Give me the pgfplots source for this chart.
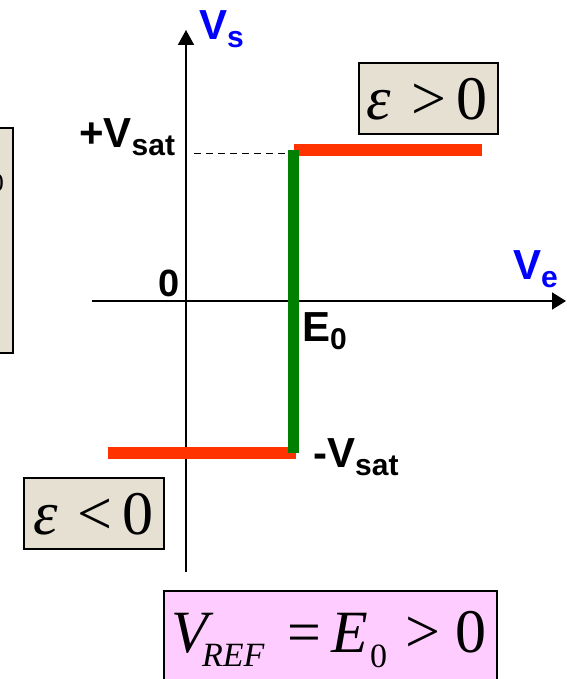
\documentclass[border=0pt]{standalone}
\usepackage{pgfplots}
\pgfplotsset{compat=1.18}
\usetikzlibrary{arrows.meta}
\usepackage{fontspec}
\setmainfont{Liberation Sans}
\newfontfamily\tnr{Liberation Serif}
\definecolor{redl}{RGB}{255,51,0}
\definecolor{greenl}{RGB}{0,128,0}
\definecolor{tanbox}{RGB}{230,224,211}
\definecolor{pinkbox}{RGB}{255,204,255}
\definecolor{bluel}{RGB}{0,0,255}
\newcommand{\lab}[2]{{\fontsize{42}{42}\selectfont\bfseries #1}\raisebox{-8pt}{\fontsize{30}{30}\selectfont\bfseries #2}}
\newcommand{\tm}[2]{{\tnr\fontsize{#1}{#1}\selectfont #2}}
\begin{document}
\begin{tikzpicture}
\begin{axis}[name=ax, x=1pt, y=1pt, xmin=-186, xmax=380, ymin=-378, ymax=301,
  hide axis, clip=false]
% axes
\addplot[line width=1.8pt, -{Triangle[length=15pt,width=16pt]}] coordinates {(0,-271) (0,271)};
\addplot[line width=1.8pt, -{Triangle[length=14pt,width=17pt]}] coordinates {(-94,0) (380,0)};
% dashed
\addplot[line width=1pt, dash pattern=on 7pt off 5pt] coordinates {(8,147) (102,147)};
% red levels
\addplot[redl, line width=12pt] coordinates {(-78,-152) (110,-152)};
\addplot[redl, line width=12pt] coordinates {(108,151) (296,151)};
% green transition
\addplot[greenl, line width=11pt] coordinates {(107.5,-152) (107.5,151)};
% labels
\node[anchor=base west, inner sep=0pt, text=bluel] at (axis cs:13,261) {\lab{V}{s}};
\node[anchor=base west, inner sep=0pt, text=bluel] at (axis cs:327,21) {\lab{V}{e}};
\node[anchor=base west, inner sep=0pt] at (axis cs:-107,153) {\lab{+V}{sat}};
\node[anchor=base west, inner sep=0pt] at (axis cs:-28,4) {{\fontsize{38}{38}\selectfont\bfseries 0}};
\node[anchor=base west, inner sep=0pt] at (axis cs:116,-41) {\lab{E}{0}};
\node[anchor=base west, inner sep=0pt] at (axis cs:127,-167) {\lab{-V}{sat}};
% box eps > 0
\draw[line width=1.5pt, fill=tanbox] (axis cs:173,238) rectangle (axis cs:312,167);
\node[anchor=base west, inner sep=0pt] at (axis cs:180,181) {\tm{62}{\textit{ε}}};
\node[anchor=base west, inner sep=0pt] at (axis cs:225,181) {\tm{62}{>}};
\node[anchor=base west, inner sep=0pt] at (axis cs:270,181) {\tm{62}{0}};
% box eps < 0
\draw[line width=1.5pt, fill=tanbox] (axis cs:-162,-177) rectangle (axis cs:-22,-248);
\node[anchor=base west, inner sep=0pt] at (axis cs:-153,-234) {\tm{62}{\textit{ε}}};
\node[anchor=base west, inner sep=0pt] at (axis cs:-109,-234) {\tm{62}{<}};
\node[anchor=base west, inner sep=0pt] at (axis cs:-64,-234) {\tm{62}{0}};
% left partial box
\draw[line width=1.5pt, fill=tanbox] (axis cs:-300,173) rectangle (axis cs:-173,-52);
\node[anchor=east, inner sep=0pt] at (axis cs:-182,118) {\tm{26}{0}};
% pink box
\draw[line width=1.2pt, fill=pinkbox] (axis cs:-22,-290) rectangle (axis cs:311,-400);
\node[anchor=base west, inner sep=0pt] at (axis cs:-15,-351) {\tm{60}{\textit{V}}};
\node[anchor=base west, inner sep=0pt] at (axis cs:16,-365) {\tm{34}{\textit{REF}}};
\node[anchor=base west, inner sep=0pt] at (axis cs:101,-351) {\tm{60}{=}};
\node[anchor=base west, inner sep=0pt] at (axis cs:145,-351) {\tm{60}{\textit{E}}};
\node[anchor=base west, inner sep=0pt] at (axis cs:184,-366) {\tm{34}{0}};
\node[anchor=base west, inner sep=0pt] at (axis cs:219,-351) {\tm{62}{>}};
\node[anchor=base west, inner sep=0pt] at (axis cs:269,-351) {\tm{62}{0}};
\end{axis}
\pgfresetboundingbox
\path (ax.south west) rectangle (ax.north east);
\end{tikzpicture}
\end{document}
